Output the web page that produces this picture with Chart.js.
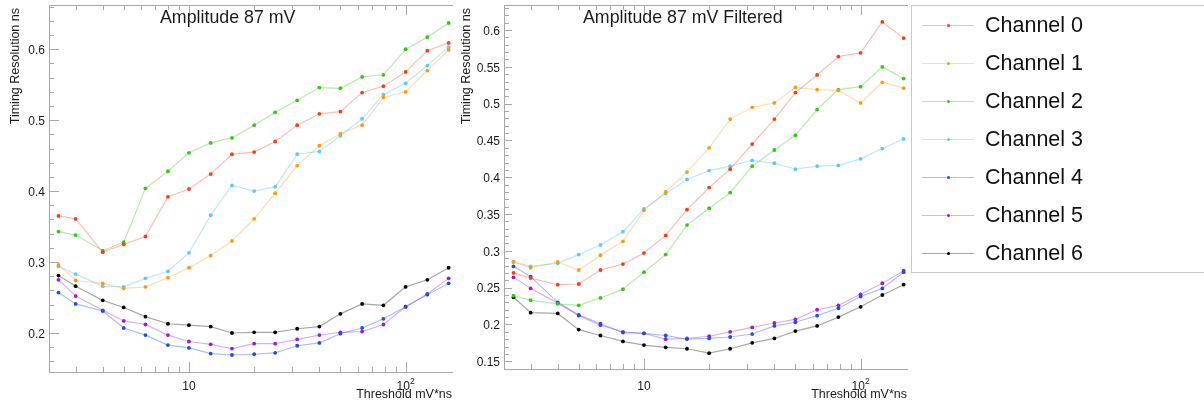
<!DOCTYPE html>
<html>
<head>
<meta charset="utf-8">
<script src="https://cdn.jsdelivr.net/npm/chart.js@4.4.1/dist/chart.umd.min.js"></script>
<style>
  html, body { margin: 0; padding: 0; background: #fff; }
  body { width: 1204px; height: 402px; position: relative; overflow: hidden; font-family: 'Liberation Sans', Arial, sans-serif; }
  .panel { position: absolute; top: 0; }
  #legend { position: absolute; left: 911px; top: 5px; width: 320px; height: 268px; border: 1px solid #c8c8c8; box-sizing: border-box; }
  .item { position: absolute; left: 0; height: 24px; display: flex; align-items: center; }
  .sample { position: relative; width: 52px; height: 1px; margin-left: 10px; }
  .sample i { position: absolute; left: 25px; top: -1px; width: 3px; height: 3px; border-radius: 50%; }
  .item span { margin-left: 11px; font-size: 21.5px; color: #111; }
</style>
</head>
<body>
<canvas id="raw-chart" class="panel" style="left:0px" width="460" height="402"></canvas>
<canvas id="filtered-chart" class="panel" style="left:455px" width="460" height="402"></canvas>
<div id="legend"></div>
<script>
// thresholds in mV*ns (log axis)
const thresholds = [2.5, 3, 4, 5, 6.3, 8, 10, 12.6, 15.8, 20, 25, 31.6, 40, 50, 63, 79, 100, 126, 158];

const channelNames = ['Channel 0', 'Channel 1', 'Channel 2', 'Channel 3', 'Channel 4', 'Channel 5', 'Channel 6'];
const pointColors = ['#ff3a10', '#ff9a10', '#33c817', '#5cc8ff', '#1c4cf0', '#9a1ad8', '#000000'];
const lineColors = [
  'rgba(255,90,60,0.4)', 'rgba(255,170,60,0.4)', 'rgba(80,200,50,0.4)', 'rgba(110,200,255,0.45)',
  'rgba(50,90,230,0.4)', 'rgba(160,60,220,0.4)', 'rgba(0,0,0,0.35)',
];

// Amplitude 87 mV
const raw0 = [0.365, 0.361, 0.314, 0.325, 0.336, 0.392, 0.403, 0.424, 0.452, 0.455, 0.470, 0.493, 0.509, 0.512, 0.539, 0.548, 0.568, 0.598, 0.609];
const raw1 = [0.296, 0.274, 0.270, 0.263, 0.265, 0.278, 0.292, 0.309, 0.330, 0.361, 0.397, 0.436, 0.464, 0.481, 0.493, 0.532, 0.540, 0.570, 0.599];
const raw2 = [0.343, 0.338, 0.316, 0.328, 0.404, 0.428, 0.454, 0.468, 0.475, 0.493, 0.511, 0.528, 0.546, 0.545, 0.561, 0.564, 0.600, 0.617, 0.637];
const raw3 = [0.294, 0.283, 0.266, 0.265, 0.277, 0.287, 0.313, 0.366, 0.408, 0.400, 0.406, 0.452, 0.456, 0.478, 0.502, 0.536, 0.552, 0.577, 0.603];
const raw4 = [0.257, 0.241, 0.231, 0.207, 0.197, 0.183, 0.179, 0.171, 0.169, 0.170, 0.172, 0.182, 0.186, 0.199, 0.207, 0.220, 0.237, 0.254, 0.270];
const raw5 = [0.275, 0.252, 0.232, 0.217, 0.212, 0.197, 0.188, 0.184, 0.178, 0.185, 0.185, 0.191, 0.197, 0.201, 0.202, 0.212, 0.237, 0.255, 0.277];
const raw6 = [0.281, 0.266, 0.246, 0.236, 0.223, 0.213, 0.211, 0.209, 0.200, 0.201, 0.201, 0.206, 0.209, 0.227, 0.241, 0.239, 0.265, 0.275, 0.292];

// Amplitude 87 mV Filtered
const filt0 = [0.270, 0.263, 0.254, 0.255, 0.274, 0.282, 0.297, 0.321, 0.356, 0.386, 0.411, 0.445, 0.479, 0.515, 0.539, 0.564, 0.569, 0.611, 0.589];
const filt1 = [0.285, 0.277, 0.285, 0.274, 0.294, 0.313, 0.355, 0.380, 0.407, 0.440, 0.479, 0.495, 0.501, 0.522, 0.519, 0.518, 0.501, 0.529, 0.521];
const filt2 = [0.239, 0.233, 0.228, 0.226, 0.236, 0.248, 0.271, 0.295, 0.335, 0.358, 0.379, 0.415, 0.437, 0.457, 0.492, 0.519, 0.523, 0.550, 0.534];
const filt3 = [0.285, 0.279, 0.283, 0.295, 0.308, 0.326, 0.357, 0.378, 0.397, 0.409, 0.415, 0.423, 0.419, 0.411, 0.415, 0.416, 0.425, 0.439, 0.452];
const filt4 = [0.279, 0.265, 0.230, 0.213, 0.201, 0.189, 0.188, 0.185, 0.180, 0.181, 0.183, 0.187, 0.198, 0.203, 0.212, 0.222, 0.238, 0.249, 0.271];
const filt5 = [0.264, 0.249, 0.229, 0.212, 0.199, 0.190, 0.188, 0.180, 0.181, 0.184, 0.190, 0.196, 0.202, 0.207, 0.220, 0.226, 0.241, 0.256, 0.273];
const filt6 = [0.237, 0.216, 0.215, 0.193, 0.185, 0.177, 0.172, 0.169, 0.167, 0.161, 0.167, 0.175, 0.181, 0.191, 0.198, 0.210, 0.224, 0.240, 0.254];

// tick labels
const xMajorTicks = [10, 100];
const xMinorTicks = [3, 4, 5, 6, 7, 8, 9, 20, 30, 40, 50, 60, 70, 80, 90];
const rawYTicks = [0.2, 0.3, 0.4, 0.5, 0.6];
const filtYTicks = [0.15, 0.2, 0.25, 0.3, 0.35, 0.4, 0.45, 0.5, 0.55, 0.6];

const FONT = "'Liberation Sans', Arial, sans-serif";
const AXIS_COLOR = '#a8a8a8';
const TEXT_COLOR = '#1a1a1a';

function xTickLabel(ctx, v, px, py) {
  // 10 and 10^2 style labels
  const exp = Math.round(Math.log10(v));
  ctx.font = `12px ${FONT}`;
  if (exp === 1) {
    ctx.textAlign = 'center';
    ctx.fillText('10', px, py);
    return;
  }
  ctx.font = `12px ${FONT}`;
  const baseW = ctx.measureText('10').width;
  ctx.font = `8.5px ${FONT}`;
  const supW = ctx.measureText(String(exp)).width;
  const start = px - (baseW + supW) / 2;
  ctx.textAlign = 'left';
  ctx.font = `12px ${FONT}`;
  ctx.fillText('10', start, py);
  ctx.font = `8.5px ${FONT}`;
  ctx.fillText(String(exp), start + baseW, py - 5);
}

const framePlugin = {
  id: 'frame',
  afterDraw(chart, _args, opts) {
    const { ctx, chartArea: a, scales: { x, y } } = chart;
    ctx.save();
    ctx.strokeStyle = AXIS_COLOR;
    ctx.lineWidth = 1;
    ctx.beginPath();
    // left, bottom and top axis lines
    ctx.moveTo(a.left + 0.5, a.top);
    ctx.lineTo(a.left + 0.5, a.bottom + 0.5);
    ctx.lineTo(a.right, a.bottom + 0.5);
    ctx.moveTo(a.left, a.top + 0.5);
    ctx.lineTo(a.right, a.top + 0.5);

    const xTick = (v, len) => {
      const px = Math.round(x.getPixelForValue(v)) + 0.5;
      ctx.moveTo(px, a.bottom);
      ctx.lineTo(px, a.bottom - len);
      ctx.moveTo(px, a.top);
      ctx.lineTo(px, a.top + len);
    };
    xMinorTicks.forEach((v) => xTick(v, 5));
    xMajorTicks.forEach((v) => xTick(v, 10));

    const yTick = (v, len) => {
      const py = Math.round(y.getPixelForValue(v)) + 0.5;
      ctx.moveTo(a.left, py);
      ctx.lineTo(a.left + len, py);
    };
    const step = opts.minorStep;
    for (let k = Math.ceil(y.min / step); k * step <= y.max; k += 1) yTick(k * step, 5);
    opts.yTicks.forEach((v) => yTick(v, opts.majorLen));
    ctx.stroke();

    ctx.fillStyle = TEXT_COLOR;
    ctx.font = `12px ${FONT}`;
    ctx.textAlign = 'right';
    ctx.textBaseline = 'middle';
    opts.yTicks.forEach((v) => ctx.fillText(String(v), a.left - 4, y.getPixelForValue(v) + 1.5));

    xMajorTicks.forEach((v) => xTickLabel(ctx, v, x.getPixelForValue(v), 386.5));

    ctx.font = `12.5px ${FONT}`;
    ctx.textAlign = 'right';
    ctx.fillText('Threshold mV*ns', a.right - 1, 395);

    ctx.save();
    ctx.translate(opts.yTitleX, a.top + 3);
    ctx.rotate(-Math.PI / 2);
    ctx.textAlign = 'right';
    ctx.fillText('Timing Resolution ns', 0, 0);
    ctx.restore();

    ctx.font = `17.8px ${FONT}`;
    ctx.textAlign = 'left';
    ctx.fillText(opts.title, opts.titleX, 18.5);
    ctx.restore();
  },
};

function buildDatasets(series) {
  return series.map((vals, i) => ({
    label: channelNames[i],
    data: thresholds.map((t, j) => ({ x: t, y: vals[j] })),
    borderColor: lineColors[i],
    borderWidth: 1.2,
    pointRadius: 1.9,
    pointBorderWidth: 0,
    pointBackgroundColor: pointColors[i],
    tension: 0,
  }));
}

function createPanel(canvasId, series, cfg) {
  return new Chart(document.getElementById(canvasId), {
    type: 'line',
    data: { datasets: buildDatasets(series) },
    options: {
      responsive: false,
      animation: false,
      layout: { padding: { left: 49, right: 7, top: 5, bottom: cfg.bottomPad } },
      scales: {
        x: { type: 'logarithmic', min: 2.26, max: 165.5, display: false },
        y: { type: 'linear', min: cfg.yMin, max: cfg.yMax, display: false },
      },
      plugins: {
        legend: { display: false },
        tooltip: { enabled: false },
        frame: cfg.frame,
      },
    },
    plugins: [framePlugin],
  });
}

function buildLegend() {
  const box = document.getElementById('legend');
  channelNames.forEach((name, i) => {
    const item = document.createElement('div');
    item.className = 'item';
    item.style.top = `${7 + i * 38.1}px`;
    item.innerHTML = `<div class="sample" style="background:${lineColors[i]}"><i style="background:${pointColors[i]}"></i></div><span>${name}</span>`;
    box.appendChild(item);
  });
}

createPanel('raw-chart', [raw0, raw1, raw2, raw3, raw4, raw5, raw6], {
  yMin: 0.145,
  yMax: 0.6624,
  bottomPad: 30,
  frame: { yTicks: rawYTicks, minorStep: 0.02, majorLen: 10, yTitleX: 16, title: 'Amplitude 87 mV', titleX: 160 },
});

createPanel('filtered-chart', [filt0, filt1, filt2, filt3, filt4, filt5, filt6], {
  yMin: 0.1395,
  yMax: 0.634,
  bottomPad: 33,
  frame: { yTicks: filtYTicks, minorStep: 0.01, majorLen: 8, yTitleX: 12, title: 'Amplitude 87 mV Filtered', titleX: 128 },
});

buildLegend();
</script>
</body>
</html>
